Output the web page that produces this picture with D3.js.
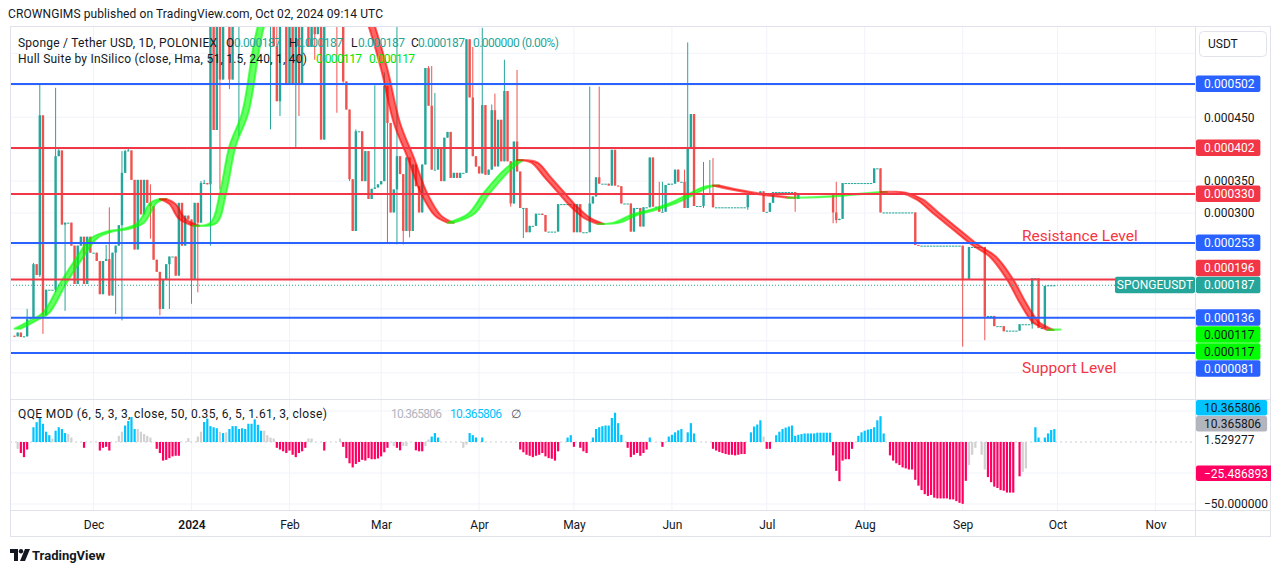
<!DOCTYPE html>
<html lang="en">
<head>
<meta charset="UTF-8">
<title>SPONGEUSDT 1D - Hull Suite / QQE MOD</title>
<script src="https://d3js.org/d3.v7.min.js"></script>
<style>
  body { margin: 0; background: #fff; }
  svg { display: block; font-family: Roboto, "Liberation Sans", sans-serif; }
</style>
</head>
<body>
<svg id="chart" width="1281" height="573"></svg>
<script>
// ---------- data (prices in millionths of USDT, one candle per day) ----------
const startDate = Date.UTC(2023, 10, 6);
const firstOpen = 108;
const closes = [
  107,113,106,107,134,137,220,203,453,140,
  180,180,180,389,398,282,285,285,249,189,
  249,263,189,263,238,238,225,173,225,228,
  171,238,249,281,363,397,398,352,243,352,
  298,352,316,311,227,208,150,196,220,232,
  232,202,316,249,296,290,197,316,285,347,
  347,345,600,430,610,509,620,600,509,620,
  620,640,610,650,630,660,640,650,630,660,
  640,660,561,475,620,630,501,640,501,650,
  501,640,620,560,600,580,620,415,640,660,
  620,640,600,640,506,462,353,272,428,428,
  350,397,322,338,340,345,350,499,441,301,
  337,389,361,272,387,272,376,342,301,376,
  527,468,368,368,402,350,418,427,355,363,
  355,363,363,572,481,389,373,362,469,360,
  368,461,373,446,381,491,381,315,412,365,
  308,308,270,280,280,299,299,297,271,271,
  271,271,314,314,314,314,314,270,314,270,
  270,270,315,326,356,346,346,346,343,399,
  343,342,315,315,315,271,308,308,279,309,
  309,387,310,310,302,302,344,346,346,368,
  349,349,308,403,455,311,311,311,331,331,
  331,309,309,309,309,309,309,309,309,309,
  309,309,331,331,331,331,334,302,302,316,
  333,333,333,333,333,333,333,322,331,331,
  331,331,331,331,331,331,331,331,331,301,
  289,291,347,347,347,347,347,347,347,347,
  347,347,370,370,301,301,301,301,301,301,
  301,301,301,301,301,250,249,249,249,249,
  249,249,249,249,249,249,249,249,249,249,
  197,197,247,247,247,247,247,138,139,139,
  123,123,123,115,116,116,116,116,126,126,
  126,126,198,198,120,120,186,187,187,187
];
// [candle index, wick end]
const highWicks = [
  [4,150],[6,222],[8,501],[13,496],[14,400],[29,250],[30,309],[34,397],[35,399],[36,402],
  [43,345],[59,350],[60,352],[62,650],[63,620],[65,640],[83,650],[104,620],[108,431],[114,500],
  [117,520],[121,600],[131,530],[132,530],[133,488],[145,560],[148,590],[151,470],[152,487],[155,540],
  [159,524],[182,498],[185,498],[204,349],[205,349],[210,368],[212,368],[213,567],[218,380],[220,383],
  [221,386],[260,349]
];
const lowWicks = [
  [8,200],[9,111],[13,176],[16,147],[32,142],[34,132],[43,260],[46,140],[49,150],[56,158],
  [58,176],[62,249],[65,337],[68,494],[71,421],[81,431],[84,452],[89,402],[90,452],[95,540],
  [98,415],[102,457],[104,504],[106,350],[118,254],[121,251],[123,251],[125,262],[146,372],[157,310],
  [161,261],[218,308],[232,305],[247,302],[259,284],[260,284],[300,91],[307,101],[322,119]
];

// Hull Suite line read at (candle index, price)
const hullIdx = [0,5,9,14.5,20,24,29,34,39,43,46,49,52,56.5,62,65,68,72,77,85,
  95,105,112,116,120,124.5,128.5,133,137,143.5,148.5,155,159,163.5,167.5,172,176,180,184.5,189.5,
  195,201,207.5,213,218,221,227.5,236,244.5,254,264.5,274,280,285.5,290.5,297,303,308.5,314,318,
  322,325,326.8,329];
const hullVal = [119,132,144,191,233,260,271,275,285,316,322,314,291,280,285,332,405,457,593,700,
  740,690,593,525,441,385,332,296,285,299,332,368,383,379,357,332,310,293,283,285,
  297,305,316,329,341,343,336,329,324,325,329,333,332,321,300,274,250,232,196,160,
  130,121,117,117.6];

// QQE MOD histogram, one value per candle (0 = no bar)
const qqeVals = [
  0,-5.5,-8.9,-12.2,-6.1,0,11.9,16,19.4,14.7,
  8.3,5.5,2.8,9.1,11.9,10.5,7.2,6.4,3.6,0,
  0,0,-4.7,0,0,0,0,-6.9,-4.7,-3.9,
  -6.9,0,0,5,8.3,13.3,16.9,20.2,10.5,10.5,
  8.3,6.4,5,3.6,0,-5.5,-8.9,-15,-14.4,-13,
  -11.6,-11.1,-11.1,0,0,3.1,0,0,4.4,8.3,
  16.1,18.9,12.8,11.9,11.1,8.3,7.2,7.8,10.5,12.8,
  12.8,10.5,11.1,10.5,14.7,14.7,18.3,13.9,9.1,9.1,
  5.5,3.6,2.8,-4.7,-6.1,-7.5,-8.9,-6.9,-10.3,-12.2,
  -8.9,-7.5,-4.7,2.8,2.8,0,0,0,-6.9,0,
  0,0,0,2.8,-3.9,-13,-17.2,-20.5,-17.7,-16.1,
  -14.4,-15,-13,-13.9,-13.9,-13.3,-11.6,-8.3,-4.7,0,
  -3.3,-4.7,-6.7,-3.3,-3.3,0,0,-6.7,-7.5,-7.5,
  -3.3,2,4.4,7.2,3.6,0,0,0,0,0,
  0,0,-4.7,-2,7.2,5.5,3.6,0,3.6,0,
  0,0,0,0,0,0,0,0,0,0,
  -6.1,-8.3,-10.3,-11.1,-12.2,-11.1,-10.3,-8.9,-11.6,-13,
  -13.5,-15,-7.5,0,0,3.6,5.5,-3.9,0,-4.7,
  -7.5,-8.9,0,3.6,10.5,11.9,12.8,13.3,13.3,19.4,
  23.6,15.2,5.8,0,-4.7,-12.2,-10.3,-8.9,-11.1,-8.9,
  -6.1,3.6,0,0,0,-3.9,0,4.4,5.8,7.8,
  9.4,10.5,0,7.8,15.2,6.9,0,0,0,0,
  0,-5.5,-6.9,-8,-8.9,-9.7,-10.3,-10.3,-10.8,-10.3,
  -9.7,-9.7,0,7.8,12.5,14.1,17.5,4.4,-5.5,-5.5,
  0,5.5,8.3,10.5,11.6,12.5,13.3,5,5.8,6.4,
  6.9,6.9,6.9,6.9,7.5,7.5,7.5,7.5,7.5,-10.8,
  -23.3,-31.6,-15,-13.9,-13.9,-5.5,0,5,7.8,9.1,
  10,10.5,11.9,17.5,20.8,6.9,0,-10.8,-15,-17.2,
  -18.6,-20.5,-21.3,-22.2,-22.2,-30.5,-35.2,-38.8,-42.1,-43.5,
  -42.7,-44.9,-45.5,-45.5,-45.5,-45.5,-46.3,-46.3,-47.7,-49.1,
  -49.9,-31.3,-18.6,-10.3,-4.7,0,-10.3,-22.2,-28.3,-32.4,
  -36,-37.1,-38.8,-39.3,-40.8,-40.8,-40.8,0,-27.7,-24.1,
  -21.3,0,0,11.9,3.6,0,3.6,6.9,9.7,10.4
];
// bars drawn in the neutral grey
const qqeGrey = [1,12,17,18,33,34,39,40,41,42,43,55,58,59,65,67,79,80,81,82,93,94,103,
  120,123,124,130,131,142,143,237,302,303,304,306,307,319,320];

// horizontal levels drawn on the chart
const levels = [502, 402, 330, 253, 196, 136, 81];
const levelKinds = ["blue", "red", "red", "blue", "red", "blue", "blue"];
const lastPrice = 187;
const hullLast = [117, 117];
const priceTicks = [50,100,150,200,250,300,350,400,450,500,550];

const qqeLast = 10.365806, qqeMid = 1.529277, qqeLow = -25.486893;
const qqeGridVals = [25, -25, -50];

const monthTicks = [
  Date.UTC(2023,11,1), Date.UTC(2024,0,1), Date.UTC(2024,1,1), Date.UTC(2024,2,1),
  Date.UTC(2024,3,1), Date.UTC(2024,4,1), Date.UTC(2024,5,1), Date.UTC(2024,6,1),
  Date.UTC(2024,7,1), Date.UTC(2024,8,1), Date.UTC(2024,9,1), Date.UTC(2024,10,1)
];
const monthNames = ["Dec","2024","Feb","Mar","Apr","May","Jun","Jul","Aug","Sep","Oct","Nov"];

// ---------- layout ----------
const svg = d3.select("#chart");
const left = 10, right = 1271, axisX = 1195;
const mainTop = 27, mainBottom = 399, qqeTop = 400, qqeBottom = 510, frameBottom = 537;
const C = {
  text: "#131722", grid: "#f0f3fa", border: "#e0e3eb",
  up: "#26a69a", down: "#ef5350", blue: "#2962ff", red: "#f23645",
  qBlue: "#00c3ff", qPink: "#ff0062", qGrey: "#d1d1d1"
};
const DAY = 864e5;

const x = d3.scaleUtc()
  .domain([Date.UTC(2024,0,1), Date.UTC(2024,9,1)])
  .range([191.5, 1057.5]);
const y = d3.scaleLinear().domain([81, 502]).range([353, 84]);
const yq = d3.scaleLinear().domain([0, -50]).range([442, 504]);
const xi = i => x(new Date(startDate + i * DAY));

const defs = svg.append("defs");
defs.append("clipPath").attr("id", "mainClip")
  .append("rect").attr("x", left).attr("y", mainTop).attr("width", axisX - left).attr("height", mainBottom - mainTop);
defs.append("clipPath").attr("id", "qqeClip")
  .append("rect").attr("x", left).attr("y", qqeTop).attr("width", right - left).attr("height", qqeBottom - qqeTop);

// grid
const grid = svg.append("g");
grid.selectAll(".vg").data(monthTicks).enter().append("line")
  .attr("x1", d => x(d)).attr("x2", d => x(d))
  .attr("y1", mainTop).attr("y2", qqeBottom)
  .attr("stroke", C.grid);
grid.selectAll(".hg").data(priceTicks).enter().append("line")
  .attr("x1", left).attr("x2", axisX)
  .attr("y1", d => y(d)).attr("y2", d => y(d))
  .attr("stroke", C.grid);
grid.selectAll(".qg").data(qqeGridVals).enter().append("line")
  .attr("x1", left).attr("x2", axisX)
  .attr("y1", d => yq(d)).attr("y2", d => yq(d))
  .attr("stroke", C.grid);
grid.append("line")
  .attr("x1", left).attr("x2", axisX).attr("y1", yq(0)).attr("y2", yq(0))
  .attr("stroke", "#c9ccd4").attr("stroke-dasharray", "2,3");

// candles
const candles = closes.map((c, i) => {
  const o = i === 0 ? firstOpen : closes[i - 1];
  return { i, o, c, h: Math.max(o, c), l: Math.min(o, c) };
});
highWicks.forEach(([i, v]) => { candles[i].h = Math.max(candles[i].h, v); });
lowWicks.forEach(([i, v]) => { candles[i].l = Math.min(candles[i].l, v); });

const cg = svg.append("g").attr("clip-path", "url(#mainClip)");
cg.selectAll(".wick").data(candles).enter().append("line")
  .attr("x1", d => xi(d.i)).attr("x2", d => xi(d.i))
  .attr("y1", d => y(d.h)).attr("y2", d => y(d.l))
  .attr("stroke", d => d.c >= d.o ? C.up : C.down)
  .attr("stroke-width", 1);
cg.selectAll(".body").data(candles).enter().append("rect")
  .attr("x", d => xi(d.i) - 1.2)
  .attr("width", 2.4)
  .attr("y", d => Math.min(y(d.o), y(d.c)))
  .attr("height", d => Math.max(1, Math.abs(y(d.o) - y(d.c))))
  .attr("fill", d => d.c >= d.o ? C.up : C.down);

// Hull band: hull line and the same line two bars later, coloured by direction
const hullPts = hullIdx.map((k, j) => [xi(k), y(hullVal[j])]);
const runs = [];
for (let j = 0; j < hullPts.length - 1; j++) {
  const up = hullVal[j + 1] > hullVal[j];
  if (!runs.length || runs[runs.length - 1].up !== up) runs.push({ up, pts: [hullPts[j]] });
  runs[runs.length - 1].pts.push(hullPts[j + 1]);
}
const lineGen = d3.line().curve(d3.curveCatmullRom);
const shift = 2 * (x(DAY * 2) - x(DAY));
const hg = svg.append("g").attr("clip-path", "url(#mainClip)");
runs.forEach(r => {
  const a = r.pts;
  const b = a.map(p => [p[0] + shift, p[1]]).reverse();
  const d = lineGen(a) + "L" + lineGen(b).slice(1) + "Z";
  const col = r.up ? "#00ff00" : "#ff0000";
  hg.append("path").attr("d", d)
    .attr("fill", col).attr("fill-opacity", 0.6)
    .attr("stroke", col).attr("stroke-opacity", 0.6).attr("stroke-width", 2)
    .attr("stroke-linejoin", "round");
});

// level lines
const lg = svg.append("g");
lg.selectAll("line").data(levels).enter().append("line")
  .attr("x1", left).attr("x2", axisX)
  .attr("y1", d => y(d)).attr("y2", d => y(d))
  .attr("stroke", (d, k) => levelKinds[k] === "blue" ? C.blue : C.red)
  .attr("stroke-width", 2);
lg.append("line")
  .attr("x1", left).attr("x2", 1115).attr("y1", y(lastPrice)).attr("y2", y(lastPrice))
  .attr("stroke", C.up).attr("stroke-width", 1).attr("stroke-dasharray", "1,2");

lg.append("text").text("Resistance Level")
  .attr("x", 1022).attr("y", 236).attr("dominant-baseline", "central")
  .attr("font-size", "15.5px").attr("fill", C.red);
lg.append("text").text("Support Level")
  .attr("x", 1022).attr("y", 368).attr("dominant-baseline", "central")
  .attr("font-size", "15.5px").attr("fill", C.red);

// QQE histogram
const greySet = new Set(qqeGrey);
const qg = svg.append("g").attr("clip-path", "url(#qqeClip)");
qg.selectAll("rect").data(qqeVals.map((v, i) => ({ v, i })).filter(d => d.v !== 0)).enter().append("rect")
  .attr("x", d => xi(d.i) - 1.1)
  .attr("width", 2.2)
  .attr("y", d => Math.min(yq(0), yq(d.v)))
  .attr("height", d => Math.abs(yq(d.v) - yq(0)))
  .attr("fill", d => greySet.has(d.i) ? C.qGrey : (d.v > 0 ? C.qBlue : C.qPink));

// frame and separators
const fg = svg.append("g").attr("fill", "none").attr("stroke", C.border);
fg.append("rect").attr("x", left + 0.5).attr("y", 26.5).attr("width", right - left - 1).attr("height", frameBottom - 27);
fg.append("line").attr("x1", axisX + 0.5).attr("x2", axisX + 0.5).attr("y1", 27).attr("y2", frameBottom);
fg.append("line").attr("x1", left).attr("x2", right).attr("y1", mainBottom + 0.5).attr("y2", mainBottom + 0.5);
fg.append("line").attr("x1", left).attr("x2", right).attr("y1", qqeBottom + 0.5).attr("y2", qqeBottom + 0.5);

// time axis
const tAxis = svg.append("g")
  .attr("transform", `translate(0,${qqeBottom})`)
  .call(d3.axisBottom(x).tickValues(monthTicks).tickSize(0).tickPadding(10)
    .tickFormat((d, k) => monthNames[k]));
tAxis.select(".domain").remove();
tAxis.selectAll("text").attr("font-size", "12px").attr("fill", C.text)
  .attr("font-family", "Roboto, sans-serif")
  .attr("font-weight", (d, k) => monthNames[k] === "2024" ? 600 : 400);

// axis label boxes, pushed apart around a pinned label
function placeLabels(items, h) {
  items.sort((a, b) => a.want - b.want);
  const p = items.findIndex(d => d.pinned);
  items[p].pos = items[p].want;
  for (let k = p + 1; k < items.length; k++) items[k].pos = Math.max(items[k].want, items[k - 1].pos + h);
  for (let k = p - 1; k >= 0; k--) items[k].pos = Math.min(items[k].want, items[k + 1].pos - h);
  return items;
}
function drawLabels(items, h, clip) {
  const g = svg.append("g");
  if (clip) g.attr("clip-path", clip);
  items.forEach(d => {
    const t = g.append("text").text(d.text)
      .attr("x", axisX + 9).attr("y", d.pos).attr("dominant-baseline", "central")
      .attr("font-size", "12px").attr("fill", d.fg || C.text);
    if (d.bg) {
      const w = t.node().getComputedTextLength();
      g.insert("rect", "text")
        .attr("x", axisX + 1).attr("y", d.pos - h / 2)
        .attr("width", w + 14).attr("height", h - 0.5).attr("rx", 2)
        .attr("fill", d.bg);
      t.raise();
    }
  });
}
const fmt = v => (v / 1e6).toFixed(6);
const priceLabels = levels.map((v, k) => ({
  text: fmt(v), want: y(v), bg: levelKinds[k] === "blue" ? C.blue : C.red, fg: "#fff"
}));
priceLabels.push({ text: fmt(lastPrice), want: y(lastPrice), bg: C.up, fg: "#fff", pinned: true });
hullLast.forEach(v => priceLabels.push({ text: fmt(v), want: y(v), bg: "#00ff00", fg: C.text }));
placeLabels(priceLabels, 17);

// price axis: tick labels that a label box would cover are not drawn
const shownTicks = priceTicks.filter(v =>
  y(v) > 60 && priceLabels.every(d => Math.abs(d.pos - y(v)) >= 9));
const pAxis = svg.append("g")
  .attr("transform", `translate(${axisX + 1},0)`)
  .call(d3.axisRight(y).tickValues(shownTicks).tickSize(0).tickPadding(8)
    .tickFormat(d => (d / 1e6).toFixed(6)));
pAxis.select(".domain").remove();
pAxis.selectAll("text").attr("font-size", "12px").attr("fill", C.text).attr("font-family", "Roboto, sans-serif");

// symbol tag next to the last price
const lastPos = priceLabels.find(d => d.pinned).pos;
svg.append("rect").attr("x", 1115).attr("y", lastPos - 8.5).attr("width", 80).attr("height", 16.5)
  .attr("rx", 2).attr("fill", C.up);
svg.append("text").text("SPONGEUSDT").attr("x", 1155).attr("y", lastPos)
  .attr("text-anchor", "middle").attr("dominant-baseline", "central")
  .attr("font-size", "12px").attr("fill", "#fff");
drawLabels(priceLabels, 17);

const qqeLabels = placeLabels([
  { text: qqeLast.toFixed(6), want: yq(qqeLast), bg: C.qBlue, fg: C.text },
  { text: qqeLast.toFixed(6), want: yq(qqeLast) + 0.01, bg: "#b2b5be", fg: C.text },
  { text: qqeMid.toFixed(6), want: yq(qqeMid), pinned: true },
  { text: "\u2212" + Math.abs(qqeLow).toFixed(6), want: yq(qqeLow), bg: C.qPink, fg: "#fff" },
  { text: "\u221250.000000", want: yq(-50) }
], 16);
drawLabels(qqeLabels, 16, "url(#qqeClip)");

// currency box
svg.append("rect").attr("x", 1199.5).attr("y", 31.5).attr("width", 67).attr("height", 25)
  .attr("rx", 4).attr("fill", "#fff").attr("stroke", C.border);
svg.append("text").text("USDT").attr("x", 1208).attr("y", 44).attr("dominant-baseline", "central")
  .attr("font-size", "12px").attr("fill", C.text);

// legends
const legend = svg.append("g").attr("font-size", "12px").attr("fill", C.text);
function legendText(str, xPos, yPos, color, len) {
  const t = legend.append("text").text(str)
    .attr("x", xPos).attr("y", yPos).attr("dominant-baseline", "central");
  if (color) t.attr("fill", color);
  if (len) t.attr("textLength", len).attr("lengthAdjust", "spacing");
  return t;
}
legendText("Sponge / Tether USD, 1D, POLONIEX", 18, 43, null, 199);
[["O", 226, 234], ["H", 289, 296], ["L", 351, 358], ["C", 411, 418]].forEach(([k, kx, vx]) => {
  legendText(k, kx, 43);
  legendText(fmt(lastPrice), vx, 43, C.up, 47);
});
legendText("0.000000 (0.00%)", 473, 43, C.up, 86);

legendText("Hull Suite by InSilico (close, Hma, 51, 1.5, 240, 1, 40)", 18, 59, null, 289);
legendText(fmt(hullLast[0]), 316, 59, "#00e600", 46);
legendText(fmt(hullLast[1]), 369, 59, "#00e600", 46);

legendText("QQE MOD (6, 5, 3, 3, close, 50, 0.35, 6, 5, 1.61, 3, close)", 18, 414, null, 309);
legendText(qqeLast.toFixed(6), 391, 414, "#b2b5be", 51);
legendText(qqeLast.toFixed(6), 450, 414, C.qBlue, 52);
legendText("\u2205", 511, 414, "#50535e");

// page header and footer
svg.append("text").text("CROWNGIMS published on TradingView.com, Oct 02, 2024 09:14 UTC")
  .attr("x", 8).attr("y", 14).attr("dominant-baseline", "central")
  .attr("font-size", "12px").attr("fill", C.text)
  .attr("textLength", 375).attr("lengthAdjust", "spacing");

const logo = svg.append("g").attr("transform", "translate(10,549)").attr("fill", C.text);
logo.append("path").attr("d", "M0,0H8V12H4V4H0Z");
logo.append("circle").attr("cx", 11).attr("cy", 2.2).attr("r", 2.2);
logo.append("path").attr("d", "M15,0H20L15,12H10Z");
svg.append("text").text("TradingView").attr("x", 32).attr("y", 555).attr("dominant-baseline", "central")
  .attr("font-size", "13px").attr("font-weight", 700).attr("fill", C.text);
</script>
</body>
</html>
